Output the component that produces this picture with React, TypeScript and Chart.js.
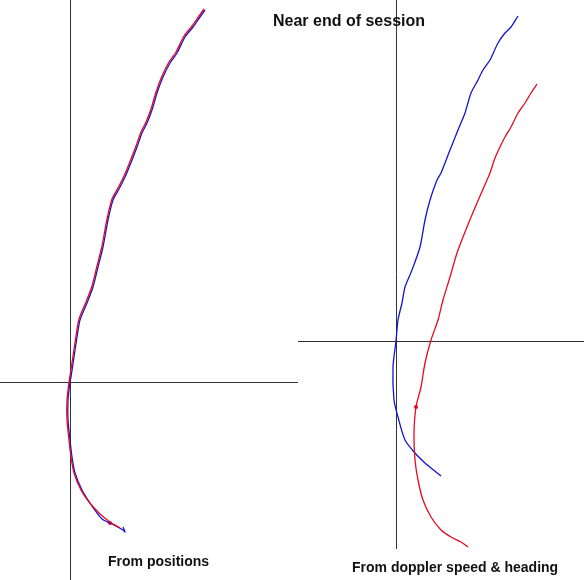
import React, { useEffect, useRef } from "react";
import { Chart, registerables } from "chart.js";

Chart.register(...registerables);

// Left panel: track from positions (metres east / north of reference point)
const posBlueX = [135, 130, 123, 115, 107, 100, 93, 87, 82, 77, 72, 67, 62, 55, 49, 43, 38, 33, 28, 23, 17, 10, 7, 4, 1, 0, -2, -2, 0, 2, 5, 12, 20, 32, 40, 53, 55, 53];
const posBlueY = [372, 365, 355, 345, 329, 319, 305, 289, 272, 259, 249, 235, 222, 205, 193, 182, 162, 135, 115, 95, 79, 62, 45, 25, 5, 0, -18, -38, -58, -75, -91, -108, -121, -137, -141, -148, -150, -145];
const posRedX = [134, 129, 122, 114, 106, 99, 92, 86, 81, 76, 71, 66, 61, 54, 48, 42, 37, 32, 27, 22, 16, 9, 6, 3, 0, -1, -3, -3, -1, 1, 4, 11, 19, 29, 40, 50];
const posRedY = [373, 366, 356, 346, 330, 320, 306, 290, 273, 260, 250, 236, 223, 206, 194, 183, 163, 136, 116, 96, 80, 63, 46, 26, 6, 0, -18, -38, -58, -75, -91, -108, -120, -131, -140, -146];

// Right panel: track from doppler speed & heading
const dopBlueX = [122, 115, 109, 102, 94, 87, 82, 75, 69, 62, 54, 45, 41, 34, 29, 24, 16, 9, 6, 2, 0, -3, -2, 2, 9, 19, 29, 35, 45];
const dopBlueY = [325, 314, 308, 298, 281, 271, 261, 248, 228, 211, 191, 168, 161, 141, 121, 94, 71, 54, 38, 21, 0, -26, -59, -76, -99, -112, -122, -127, -135];
const dopRedX = [141, 135, 129, 122, 115, 109, 104, 99, 94, 91, 81, 71, 61, 54, 47, 42, 35, 29, 25, 20, 18, 19, 22, 27, 35, 45, 55, 65, 72];
const dopRedY = [257, 248, 238, 228, 214, 204, 194, 183, 168, 161, 138, 114, 88, 64, 41, 21, 1, -22, -46, -66, -92, -119, -139, -159, -176, -189, -196, -201, -206];

// Marked fixes
const posMarkX = [40];
const posMarkY = [-141];
const dopMarkX = [20];
const dopMarkY = [-66];

const titleText = "Near end of session";
const leftLabel = "From positions";
const rightLabel = "From doppler speed & heading";

const BLUE = "rgb(20,20,210)";
const RED = "rgb(230,10,30)";
const AXIS = "#333333";

const toPts = (xs: number[], ys: number[]) => xs.map((x, i) => ({ x, y: ys[i] }));

const axesPlugin = {
  id: "zeroAxes",
  beforeDatasetsDraw(chart: any, _args: any, opts: any) {
    const { ctx, scales } = chart;
    const xs = scales.x;
    const ys = scales.y;
    const x0 = xs.getPixelForValue(0);
    const y0 = ys.getPixelForValue(0);
    ctx.save();
    ctx.strokeStyle = AXIS;
    ctx.lineWidth = 1;
    ctx.beginPath();
    const vTop = ys.getPixelForValue(opts.vMax ?? ys.max);
    const vBot = ys.getPixelForValue(opts.vMin ?? ys.min);
    ctx.moveTo(Math.round(x0) + 0.5, vTop);
    ctx.lineTo(Math.round(x0) + 0.5, vBot);
    const hL = xs.getPixelForValue(opts.hMin ?? xs.min);
    const hR = xs.getPixelForValue(opts.hMax ?? xs.max);
    ctx.moveTo(hL, Math.round(y0) + 0.5);
    ctx.lineTo(hR, Math.round(y0) + 0.5);
    ctx.stroke();
    ctx.restore();
  },
};

function makeChart(
  canvas: HTMLCanvasElement,
  blue: { x: number; y: number }[],
  red: { x: number; y: number }[],
  mark: { x: number; y: number }[],
  xMin: number,
  xMax: number,
  yMin: number,
  yMax: number,
  axisOpts: any
) {
  return new Chart(canvas, {
    type: "scatter",
    data: {
      datasets: [
        {
          data: red,
          showLine: true,
          borderColor: RED,
          backgroundColor: RED,
          borderWidth: 1.3,
          pointRadius: 0,
          pointHoverRadius: 0,
          tension: 0.25,
        },
        {
          data: blue,
          showLine: true,
          borderColor: BLUE,
          backgroundColor: BLUE,
          borderWidth: 1.3,
          pointRadius: 0,
          pointHoverRadius: 0,
          tension: 0.25,
        },
        {
          data: mark,
          showLine: false,
          borderColor: RED,
          backgroundColor: RED,
          pointRadius: 2,
          pointHoverRadius: 2,
          borderWidth: 0,
        },
      ],
    },
    options: {
      responsive: false,
      animation: false,
      layout: { padding: 0, autoPadding: false },
      events: [],
      plugins: {
        legend: { display: false },
        tooltip: { enabled: false },
        title: { display: false },
        zeroAxes: axisOpts,
      } as any,
      scales: {
        x: { type: "linear", min: xMin, max: xMax, display: false },
        y: { type: "linear", min: yMin, max: yMax, display: false },
      },
    },
    plugins: [axesPlugin],
  });
}

export default function App() {
  const leftRef = useRef<HTMLCanvasElement>(null);
  const rightRef = useRef<HTMLCanvasElement>(null);

  useEffect(() => {
    const a = makeChart(
      leftRef.current!,
      toPts(posBlueX, posBlueY),
      toPts(posRedX, posRedY),
      toPts(posMarkX, posMarkY),
      -70,
      228,
      -198,
      382,
      {}
    );
    const b = makeChart(
      rightRef.current!,
      toPts(dopBlueX, dopBlueY),
      toPts(dopRedX, dopRedY),
      toPts(dopMarkX, dopMarkY),
      -98,
      188,
      -239,
      341,
      { vMin: -208 }
    );
    return () => {
      a.destroy();
      b.destroy();
    };
  }, []);

  const font = '"Liberation Sans", Arial, Helvetica, sans-serif';
  return (
    <div style={{ position: "absolute", left: 0, top: 0, width: 584, height: 580, background: "#fff", overflow: "hidden" }}>
      <canvas ref={leftRef} width={298} height={580} style={{ position: "absolute", left: 0, top: 0 }} />
      <canvas ref={rightRef} width={286} height={580} style={{ position: "absolute", left: 298, top: 0 }} />
      <div style={{ position: "absolute", left: 273, top: 13, font: `bold 16px ${font}`, lineHeight: "16px", whiteSpace: "nowrap", color: "#111" }}>
        {titleText}
      </div>
      <div style={{ position: "absolute", left: 108, top: 554, font: `bold 14px ${font}`, lineHeight: "14px", whiteSpace: "nowrap", color: "#111" }}>
        {leftLabel}
      </div>
      <div style={{ position: "absolute", left: 352, top: 560, font: `bold 14px ${font}`, lineHeight: "14px", whiteSpace: "nowrap", color: "#111" }}>
        {rightLabel}
      </div>
    </div>
  );
}
